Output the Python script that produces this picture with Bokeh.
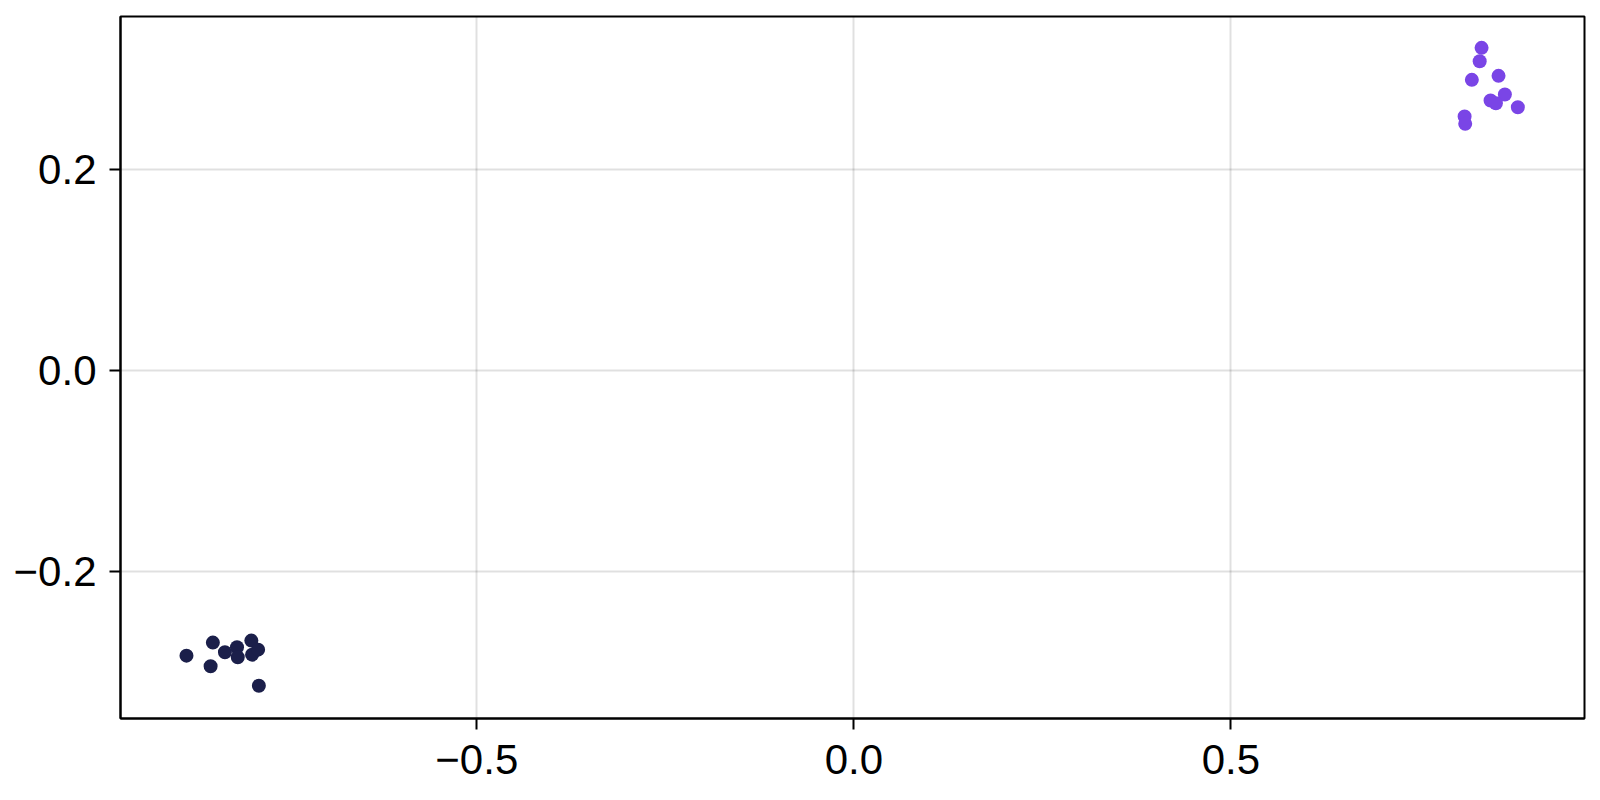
from bokeh.plotting import figure
from bokeh.models import Range1d, FixedTicker, CustomJSTickFormatter
from bokeh.embed import file_html
from bokeh.resources import INLINE

# cluster A (dark)
a_x = [-0.885, -0.850, -0.853, -0.834, -0.818, -0.817, -0.799, -0.798, -0.790, -0.789]
a_y = [-0.284, -0.271, -0.2945, -0.2806, -0.2756, -0.2856, -0.269, -0.283, -0.278, -0.314]
# cluster B (purple)
b_x = [0.8325, 0.830, 0.8196, 0.855, 0.8634, 0.8444, 0.8515, 0.8806, 0.810, 0.8108]
b_y = [0.3214, 0.308, 0.2895, 0.2935, 0.2749, 0.2689, 0.2662, 0.2622, 0.253, 0.2457]

x_ticks = [-0.5, 0.0, 0.5]
y_ticks = [-0.2, 0.0, 0.2]

p = figure(width=1592, height=792, output_backend="svg", toolbar_location=None,
           x_range=Range1d(-0.9725, 0.969), y_range=Range1d(-0.3466, 0.3526),
           min_border_left=120, min_border_right=8, min_border_top=16, min_border_bottom=74)

p.scatter(a_x, a_y, size=14, fill_color="#1b1f4a", line_color=None)
p.scatter(b_x, b_y, size=14, fill_color="#7a45e6", line_color=None)

fmt = CustomJSTickFormatter(code="return tick.toFixed(1).replace('-', '\u2212');")
p.xaxis.ticker = FixedTicker(ticks=x_ticks)
p.yaxis.ticker = FixedTicker(ticks=y_ticks)
for ax in (p.xaxis, p.yaxis):
    ax.formatter = fmt
    ax.major_label_text_font = "Liberation Sans"
    ax.major_label_text_font_size = "42px"
    ax.major_label_text_color = "black"
    ax.major_tick_in = 0
    ax.major_tick_out = 11
    ax.major_tick_line_width = 2
    ax.major_tick_line_color = "black"
    ax.minor_tick_line_color = None
    ax.axis_line_width = 2
    ax.axis_line_color = "black"
p.xaxis.major_label_standoff = 15
p.yaxis.major_label_standoff = 13

p.grid.grid_line_color = "black"
p.grid.grid_line_alpha = 0.12
p.grid.grid_line_width = 2

p.outline_line_color = "black"
p.outline_line_width = 2
p.outline_line_alpha = 1.0
p.background_fill_color = "white"
p.border_fill_color = "white"

open("out.html", "w").write(file_html(p, INLINE))
